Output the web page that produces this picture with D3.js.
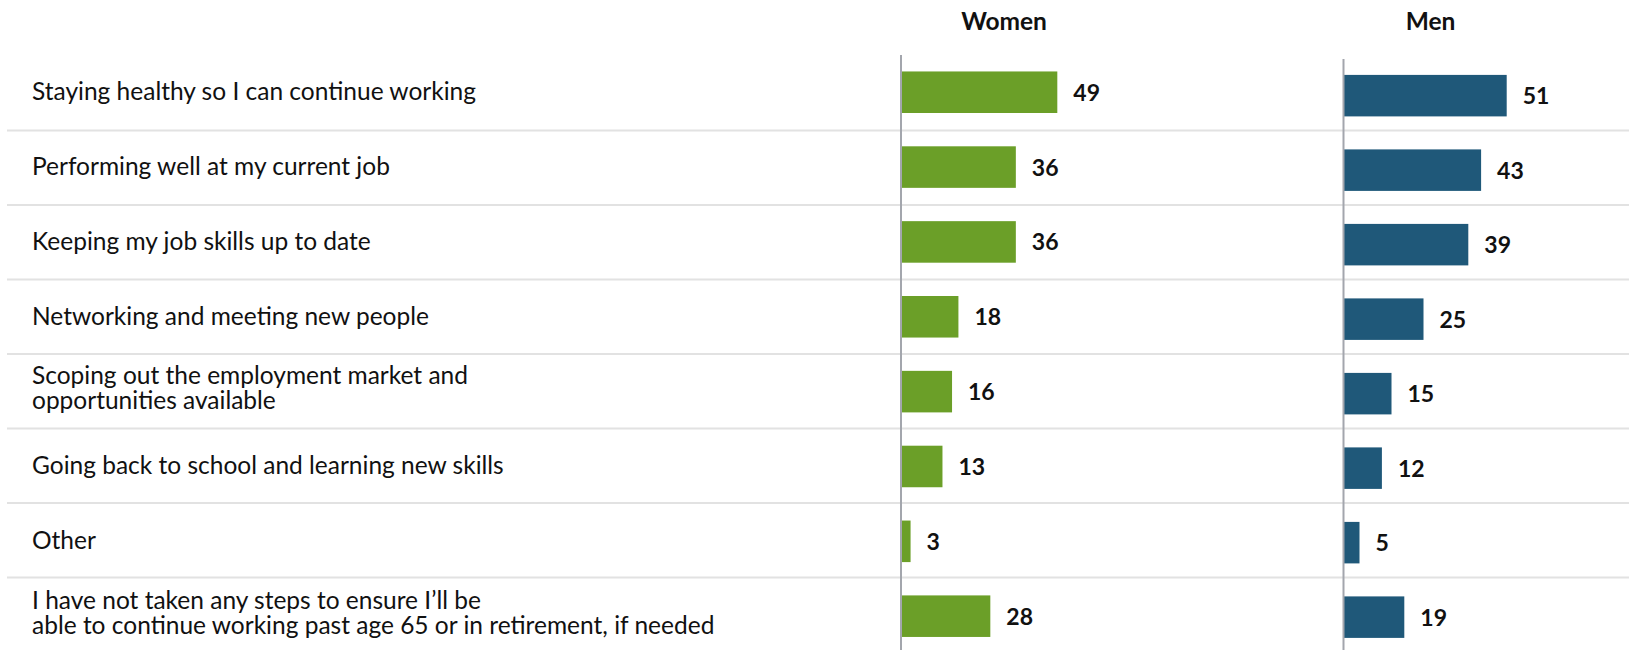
<!DOCTYPE html>
<html>
<head>
<meta charset="utf-8">
<script src="https://cdn.jsdelivr.net/npm/d3@7"></script>
<style>
  html, body { margin: 0; padding: 0; background: #ffffff; }
  svg { display: block; }
  text { font-family: Lato, "Open Sans", sans-serif; fill: #111111; }
</style>
</head>
<body>
<svg id="chart" width="1629" height="650"></svg>
<script>
// Survey answers, one row per step taken (multi-line labels split into lines)
const categories = [
  ["Staying healthy so I can continue working"],
  ["Performing well at my current job"],
  ["Keeping my job skills up to date"],
  ["Networking and meeting new people"],
  ["Scoping out the employment market and", "opportunities available"],
  ["Going back to school and learning new skills"],
  ["Other"],
  ["I have not taken any steps to ensure I\u2019ll be", "able to continue working past age 65 or in retirement, if needed"]
];
const groups = ["Women", "Men"];
const womenValues = [49, 36, 36, 18, 16, 13, 3, 28];
const menValues = [51, 43, 39, 25, 15, 12, 5, 19];

const W = 1629, H = 650;
const svg = d3.select("#chart");
const keys = categories.map((d, i) => i);

// Row bands: grid rows, and one band scale per panel
const yRows = d3.scaleBand().domain(keys).range([56.1, 652]);
const yWomen = d3.scaleBand().domain(keys).range([54.8, 653.6]).paddingInner(0.445).paddingOuter(0.2225);
const yMen = d3.scaleBand().domain(keys).range([58.4, 654.4]).paddingInner(0.443).paddingOuter(0.2215);

// Horizontal value scales for each panel
const xWomen = d3.scaleLinear().domain([0, 50]).range([901, 901 + 159.5]);
const xMen = d3.scaleLinear().domain([0, 50]).range([1343.5, 1343.5 + 160]);

// Row separators
svg.append("g")
  .selectAll("line")
  .data(keys.slice(1))
  .join("line")
  .attr("x1", 7).attr("x2", W)
  .attr("y1", d => yRows(d)).attr("y2", d => yRows(d))
  .attr("stroke", "#e2e2e2").attr("stroke-width", 2);

// Row labels
const labelG = svg.append("g");
categories.forEach((lines, i) => {
  const cy = yWomen(i) + yWomen.bandwidth() / 2;
  const lh = 25;
  const off = lines.length > 1 ? -3 : 0;
  const t = labelG.append("text")
    .attr("x", 32)
    .attr("font-size", 24.5);
  lines.forEach((ln, j) => {
    t.append("tspan")
      .attr("x", 32)
      .attr("y", cy + 8 + off - (lines.length - 1) * lh / 2 + j * lh)
      .text(ln);
  });
});

function panel(values, x, y, color, title, titleX, axisTop) {
  const g = svg.append("g");
  g.selectAll("rect")
    .data(values)
    .join("rect")
    .attr("x", x(0))
    .attr("y", (d, i) => y(i))
    .attr("width", d => x(d) - x(0))
    .attr("height", y.bandwidth())
    .attr("fill", color);

  g.selectAll("text.value")
    .data(values)
    .join("text")
    .attr("class", "value")
    .attr("x", d => x(d) + 16)
    .attr("y", (d, i) => y(i) + y.bandwidth() / 2 + 8.5)
    .attr("font-size", 23)
    .attr("font-weight", 700)
    .text(d => d);

  // Baseline axis
  g.append("line")
    .attr("x1", x(0)).attr("x2", x(0))
    .attr("y1", axisTop).attr("y2", H)
    .attr("stroke", "#a3a6ad").attr("stroke-width", 2);

  g.append("text")
    .attr("x", titleX)
    .attr("y", 29.5)
    .attr("text-anchor", "middle")
    .attr("font-size", 24.5)
    .attr("font-weight", 700)
    .text(title);
}

panel(womenValues, xWomen, yWomen, "#6b9f28", groups[0], 1004, 55);
panel(menValues, xMen, yMen, "#1f5879", groups[1], 1430.5, 59);
</script>
</body>
</html>
